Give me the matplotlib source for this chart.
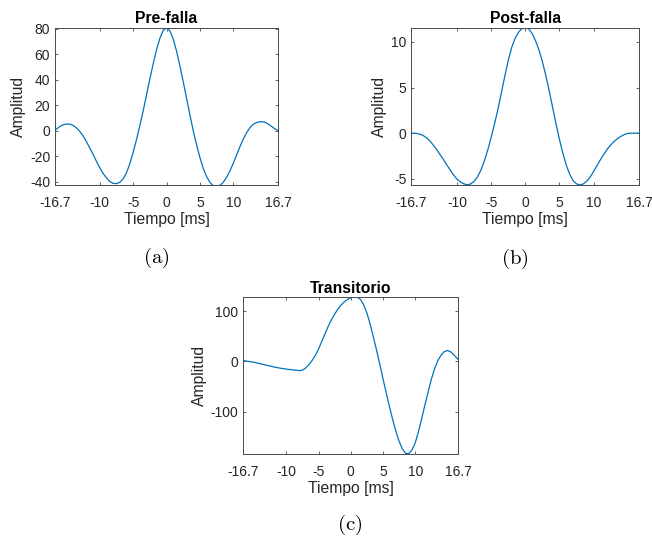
import matplotlib
matplotlib.use("Agg")
import matplotlib.pyplot as plt

plt.rcParams["font.family"] = ["Liberation Sans", "DejaVu Sans"]
plt.rcParams["mathtext.fontset"] = "cm"

LINE = "#0072BD"
AX = "#262626"
SPINE = "#4a4a4a"

# tiempo [ms], muestreo compartido por las tres curvas
t_ms = [-16.7, -16.5, -16, -15.5, -15, -14.5, -14, -13.5, -13, -12.5,
        -12, -11.5, -11, -10.5, -10, -9.5, -9, -8.5, -8, -7.5,
        -7, -6.5, -6, -5.5, -5, -4.5, -4, -3.5, -3, -2.5,
        -2, -1.5, -1, -0.5, 0, 0.5, 1, 1.5, 2, 2.5,
        3, 3.5, 4, 4.5, 5, 5.5, 6, 6.5, 7, 7.5,
        8, 8.5, 9, 9.5, 10, 10.5, 11, 11.5, 12, 12.5,
        13, 13.5, 14, 14.5, 15, 15.5, 16, 16.5, 16.7]

amp_pre = [0, 1.2, 3.3, 4.6, 5.3, 5.2, 4.2, 2.3, -0.5, -4,
           -8.5, -13.5, -18.5, -24, -29, -33.5, -37, -39.8, -41.3, -41.5,
           -40.5, -37.8, -33, -26, -17, -7, 4, 15.5, 28, 40.5,
           52.5, 63.5, 72.5, 78.7, 80.8, 78.5, 72, 62.5, 51, 38.5,
           25.5, 12.5, 0, -11, -21, -29.5, -36, -40.5, -43, -43.6,
           -42.8, -40.5, -36.5, -31.5, -25.5, -19, -12.5, -6.5, -1.5, 2.5,
           5, 6.5, 7.1, 7, 6, 4.3, 2.3, 0.6, 0]

amp_post = [0, 0, -0.02, -0.1, -0.25, -0.5, -0.85, -1.3, -1.8, -2.35,
            -2.9, -3.5, -4.05, -4.6, -5.05, -5.35, -5.55, -5.65, -5.55, -5.25,
            -4.75, -4.0, -3.0, -1.8, -0.4, 1.1, 2.7, 4.5, 6.3, 8.0,
            9.4, 10.4, 11.05, 11.45, 11.55, 11.4, 10.9, 10.1, 9.1, 7.8,
            6.3, 4.6, 2.8, 1.0, -0.7, -2.2, -3.5, -4.5, -5.2, -5.55,
            -5.66, -5.55, -5.25, -4.8, -4.2, -3.55, -2.9, -2.3, -1.75, -1.3,
            -0.9, -0.6, -0.35, -0.15, -0.03, 0, 0, 0, 0]

amp_trans = [1.5, 1, 0, -1, -2, -3.5, -5, -6.5, -8, -9.5,
             -11, -12.3, -13.5, -14.5, -15.5, -16.3, -17, -17.8, -18.4, -17.5,
             -13, -6.5, 2, 12, 25, 40, 55, 70, 83, 94,
             104, 112, 118.5, 123, 126.5, 128.4, 127.5, 123, 112, 96,
             74, 48, 22, -6, -35, -63, -90, -116, -139, -159,
             -174, -183, -183.5, -176, -162, -140, -114, -87, -61, -36,
             -15, 1, 12, 19, 21.5, 19, 13, 6, 3]

x_ticks = [-16.7, -10, -5, 0, 5, 10, 16.7]
x_ticklabels = ["-16.7", "-10", "-5", "0", "5", "10", "16.7"]

panels = [
    ("Pre-falla", amp_pre, [-40, -20, 0, 20, 40, 60, 80], (-42.8, 80.9),
     [0.0844, 0.6569, 0.342, 0.2919], "(a)", (156, 258)),
    ("Post-falla", amp_post, [-5, 0, 5, 10], (-5.7, 11.55),
     [0.6311, 0.6569, 0.3494, 0.2919], "(b)", (515, 259)),
    ("Transitorio", amp_trans, [-100, 0, 100], (-184.8, 128.5),
     [0.3732, 0.1587, 0.3298, 0.2919], "(c)", (350, 525)),
]

fig = plt.figure(figsize=(6.52, 5.40), dpi=100)
fig.patch.set_facecolor("white")

for title, amp, yt, ylim, rect, cap, cpos in panels:
    ax = fig.add_axes(rect)
    ax.plot(t_ms, amp, color=LINE, linewidth=0.9)
    ax.set_xlim(-16.7, 16.7)
    ax.set_ylim(*ylim)
    ax.set_xticks(x_ticks)
    ax.set_xticklabels(x_ticklabels)
    ax.set_yticks(yt)
    ax.set_yticklabels([str(v) for v in yt])
    ax.tick_params(direction="in", length=2.2, width=0.6, colors=SPINE,
                   labelcolor=AX, labelsize=10, top=True, right=True)
    ax.tick_params(axis="x", pad=7.5)
    ax.tick_params(axis="y", pad=3.5)
    for s in ax.spines.values():
        s.set_color(SPINE)
        s.set_linewidth(0.7)
    ax.set_title(title, fontsize=11.3, fontweight="bold", color="black", pad=3)
    ax.set_xlabel("Tiempo [ms]", fontsize=11.3, color=AX, labelpad=2)
    ax.set_ylabel("Amplitud", fontsize=11.3, color=AX, labelpad=3)
    fig.text(cpos[0] / 652, 1 - cpos[1] / 540, r"$\mathrm{" + cap + "}$",
             fontsize=15, ha="center", va="center")

fig.savefig("out.png", dpi=100)
